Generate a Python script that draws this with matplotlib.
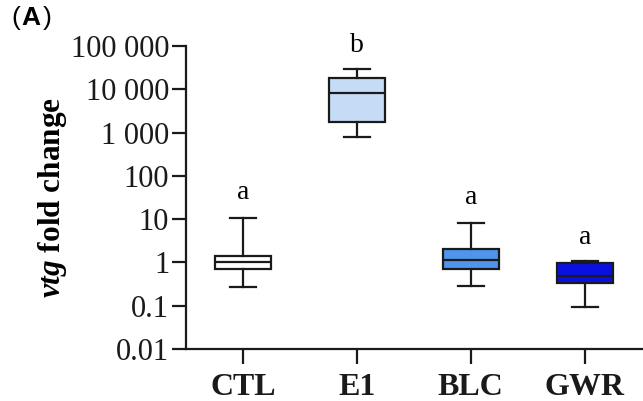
import matplotlib
matplotlib.use("Agg")
import matplotlib.pyplot as plt
import matplotlib.ticker as mticker
import numpy as np

plt.rcParams['font.family'] = ['Liberation Serif', 'DejaVu Serif']
plt.rcParams['mathtext.fontset'] = 'custom'
plt.rcParams['mathtext.bfit'] = 'Liberation Serif:bold:italic'
plt.rcParams['mathtext.rm'] = 'Liberation Serif:bold'

categories = ['CTL', 'E1', 'BLC', 'GWR']
whislo = [0.27, 810, 0.28, 0.095]
q1 = [0.70, 1740, 0.70, 0.33]
med = [1.05, 8100, 1.15, 0.48]
q3 = [1.38, 18000, 2.03, 0.95]
whishi = [10.8, 29600, 8.1, 1.07]
letters = ['a', 'b', 'a', 'a']
letter_y = [41.5, 1.02e5, 31.6, 3.8]
colors = ['#ffffff', '#c6dcf6', '#4f95ee', '#0a10e4']
ytick_vals = [0.01, 0.1, 1, 10, 100, 1000, 10000, 100000]
ytick_labels = ['0.01', '0.1', '1', '10', '100', '1 000', '10 000', '100 000']

fig = plt.figure(figsize=(6.43, 4.01), dpi=100)
ax = fig.add_axes([0.289, 0.1297, 0.709, 0.7556])

stats = []
for i in range(len(categories)):
    stats.append(dict(label=categories[i], whislo=whislo[i], q1=q1[i], med=med[i],
                      q3=q3[i], whishi=whishi[i], fliers=[]))

lw = 1.6
bp = ax.bxp(stats, positions=np.arange(len(categories)), widths=0.49,
            capwidths=0.23, showfliers=False, patch_artist=True,
            boxprops=dict(linewidth=lw, edgecolor='#1a1a1a'),
            medianprops=dict(linewidth=lw, color='#1a1a1a'),
            whiskerprops=dict(linewidth=lw, color='#1a1a1a'),
            capprops=dict(linewidth=lw, color='#1a1a1a'))
for patch, c in zip(bp['boxes'], colors):
    patch.set_facecolor(c)

ax.set_yscale('log')
ax.set_ylim(0.01, 100000)
ax.set_xlim(-0.5, 3.5)
ax.yaxis.set_major_locator(mticker.FixedLocator(ytick_vals))
ax.yaxis.set_minor_locator(mticker.NullLocator())
ax.set_yticks(ytick_vals)
ax.set_yticklabels(ytick_labels)
ax.set_xticks(np.arange(len(categories)))
ax.set_xticklabels(categories, fontweight='bold', fontsize=23)

for s in ['top', 'right']:
    ax.spines[s].set_visible(False)
for s in ['left', 'bottom']:
    ax.spines[s].set_linewidth(1.6)
    ax.spines[s].set_color('#1a1a1a')
ax.tick_params(axis='y', length=10, width=1.6, labelsize=22, pad=2, colors='#1a1a1a')
ax.tick_params(axis='x', length=11, width=1.6, pad=6, colors='#1a1a1a')
ax.tick_params(axis='both', which='minor', length=0)

for i, (t, y) in enumerate(zip(letters, letter_y)):
    ax.text(i, y, t, ha='center', va='center', fontsize=20, clip_on=False)

ax.set_ylabel(r'$\mathbfit{vtg}$ fold change', fontsize=22.5, fontweight='bold')
ax.yaxis.set_label_coords(-0.256, 0.5)

fig.text(0.018, 0.955, '(', fontsize=19, family='Liberation Sans', va='center', ha='left')
fig.text(0.033, 0.955, 'A', fontsize=19, family='Liberation Sans', fontweight='bold', va='center', ha='left')
fig.text(0.066, 0.955, ')', fontsize=19, family='Liberation Sans', va='center', ha='left')

fig.savefig('out.png', dpi=100)
